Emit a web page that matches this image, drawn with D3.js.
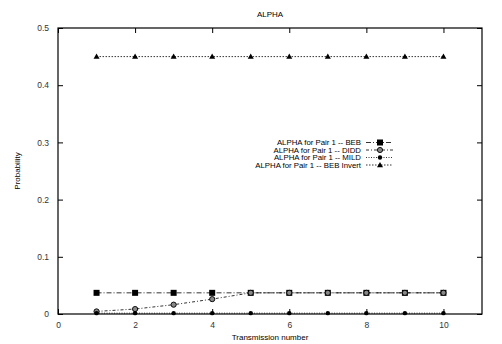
<!DOCTYPE html>
<html>
<head>
<meta charset="utf-8">
<script src="https://cdn.jsdelivr.net/npm/d3@7"></script>
<style>
  body { margin: 0; background: #fff; }
  text { font-family: "Liberation Sans", Arial, sans-serif; }
</style>
</head>
<body>
<svg id="chart" width="502" height="344"></svg>
<script>
const transmissions = [1, 2, 3, 4, 5, 6, 7, 8, 9, 10];
const bebValues = [0.037, 0.037, 0.037, 0.037, 0.037, 0.037, 0.037, 0.037, 0.037, 0.037];
const diddValues = [0.0045, 0.0087, 0.0163, 0.026, 0.037, 0.037, 0.037, 0.037, 0.037, 0.037];
const mildValues = [0.0015, 0.0015, 0.0015, 0.0015, 0.0015, 0.0015, 0.0015, 0.0015, 0.0015, 0.0015];
const bebInvertValues = [0.45, 0.45, 0.45, 0.45, 0.45, 0.45, 0.45, 0.45, 0.45, 0.45];
const seriesNames = [
  'ALPHA for Pair 1 -- BEB',
  'ALPHA for Pair 1 -- DIDD',
  'ALPHA for Pair 1 -- MILD',
  'ALPHA for Pair 1 -- BEB Invert',
];
const xTicks = [0, 2, 4, 6, 8, 10];
const yTicks = [0, 0.1, 0.2, 0.3, 0.4, 0.5];

const svg = d3.select('#chart');

const margin = { top: 28, right: 20, bottom: 30, left: 58 };
const width = 502 - margin.left - margin.right;
const height = 344 - margin.top - margin.bottom;

const root = svg.append('g')
  .attr('transform', `translate(${margin.left},${margin.top})`);

//
// Scales
//

const x = d3.scaleLinear().domain([0, 11]).range([0, width]);
const y = d3.scaleLinear().domain([0, 0.5]).range([height, 0]);

//
// Axes (inward ticks, mirrored)
//

const bottomAxis = root.append('g')
  .attr('transform', `translate(0,${height})`)
  .call(d3.axisBottom(x).tickValues(xTicks).tickSize(-5).tickPadding(7.5).tickFormat(d3.format('d')));

const topAxis = root.append('g')
  .call(d3.axisTop(x).tickValues(xTicks).tickSize(-5).tickFormat(() => ''));

const leftAxis = root.append('g')
  .call(d3.axisLeft(y).tickValues(yTicks).tickSize(-5).tickPadding(9).tickFormat(d => d === 0 ? '0' : d3.format('.1f')(d)));

const rightAxis = root.append('g')
  .attr('transform', `translate(${width},0)`)
  .call(d3.axisRight(y).tickValues(yTicks).tickSize(-5).tickFormat(() => ''));

[bottomAxis, topAxis, leftAxis, rightAxis].forEach(a => {
  a.select('.domain').remove();
  a.selectAll('line').attr('stroke', '#000').attr('stroke-width', 1);
  a.selectAll('text').attr('font-size', 8.5).attr('fill', '#333');
});

root.append('rect')
  .attr('width', width)
  .attr('height', height)
  .attr('fill', 'none')
  .attr('stroke', '#000')
  .attr('stroke-width', 1.2);

//
// Series
//

const series = [
  { name: seriesNames[0], values: bebValues, dash: '5,2,1,2', marker: 'square' },
  { name: seriesNames[1], values: diddValues, dash: '3,2,1,2', marker: 'ocircle' },
  { name: seriesNames[2], values: mildValues, dash: '1,1.5', marker: 'circle' },
  { name: seriesNames[3], values: bebInvertValues, dash: '1.5,1.5', marker: 'triangle' },
];

function drawMarker(g, type, cx, cy) {
  if (type === 'square') {
    g.append('rect').attr('x', cx - 3).attr('y', cy - 3).attr('width', 6).attr('height', 6).attr('fill', '#000');
  } else if (type === 'ocircle') {
    g.append('circle').attr('cx', cx).attr('cy', cy).attr('r', 2.6)
      .attr('fill', '#888').attr('stroke', '#000').attr('stroke-width', 0.9);
  } else if (type === 'circle') {
    g.append('circle').attr('cx', cx).attr('cy', cy).attr('r', 2.2).attr('fill', '#000');
  } else if (type === 'triangle') {
    g.append('path').attr('d', `M${cx},${cy - 3}L${cx + 3},${cy + 2.2}L${cx - 3},${cy + 2.2}Z`).attr('fill', '#000');
  }
}

const line = d3.line()
  .x((d, i) => x(transmissions[i]))
  .y(d => y(d));

series.forEach(s => {
  root.append('path')
    .datum(s.values)
    .attr('fill', 'none')
    .attr('stroke', '#000')
    .attr('stroke-width', 0.8)
    .attr('stroke-dasharray', s.dash)
    .attr('d', line);
  const mg = root.append('g');
  s.values.forEach((v, i) => drawMarker(mg, s.marker, x(transmissions[i]), y(v)));
});

//
// Legend
//

const legend = svg.append('g').attr('transform', 'translate(361,142.5)');
series.forEach((s, i) => {
  const row = legend.append('g').attr('transform', `translate(0,${i * 7.5})`);
  row.append('text')
    .attr('text-anchor', 'end')
    .attr('dy', '0.35em')
    .attr('font-size', 7.8)
    .attr('fill', '#000')
    .text(s.name);
  row.append('line')
    .attr('x1', 5).attr('x2', 32)
    .attr('stroke', '#000')
    .attr('stroke-width', 0.8)
    .attr('stroke-dasharray', s.dash);
  drawMarker(row, s.marker, 19, 0);
});

//
// Titles
//

svg.append('text')
  .attr('x', 270).attr('y', 16.5)
  .attr('text-anchor', 'middle')
  .attr('font-size', 8)
  .text('ALPHA');

svg.append('text')
  .attr('x', 270).attr('y', 340)
  .attr('text-anchor', 'middle')
  .attr('font-size', 8)
  .text('Transmission number');

svg.append('text')
  .attr('transform', 'translate(20,171) rotate(-90)')
  .attr('text-anchor', 'middle')
  .attr('font-size', 8)
  .text('Probability');
</script>
</body>
</html>
